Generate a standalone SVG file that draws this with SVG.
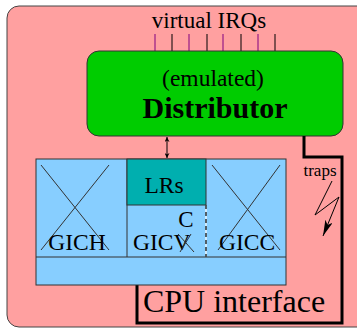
<svg xmlns="http://www.w3.org/2000/svg" width="357" height="329" viewBox="0 0 357 329">
<defs>
<style>
.t{font-family:"Liberation Serif","Times New Roman",serif;fill:#000}
.thin{stroke:#333;stroke-width:1;fill:none}
</style>
<marker id="ah" viewBox="0 0 10 10" refX="10" refY="5" markerWidth="5" markerHeight="5" orient="auto-start-reverse"><path d="M0,0 L10,5 L0,10 L3,5 z" fill="#000"/></marker>
<marker id="ah2" viewBox="0 0 16 8" refX="16" refY="4" markerWidth="16" markerHeight="8" markerUnits="userSpaceOnUse" orient="auto"><path d="M0,0 L16,4 L0,8 L4,4 z" fill="#000"/></marker>
</defs>
<rect width="357" height="329" fill="#fff"/>
<g id="gic">
<rect x="7" y="6" width="370" height="321" rx="12" fill="#ffa0a0" stroke="#444" stroke-width="1"/>
</g>
<g id="irqs">
<text class="t" x="209" y="28" font-size="23" text-anchor="middle">virtual IRQs</text>
<g>
<line x1="155" y1="34" x2="155" y2="51" stroke="#800080"/>
<line x1="172" y1="34" x2="172" y2="51" stroke="#000"/>
<line x1="189" y1="34" x2="189" y2="51" stroke="#800080"/>
<line x1="207" y1="34" x2="207" y2="51" stroke="#000"/>
<line x1="223" y1="34" x2="223" y2="51" stroke="#800080"/>
<line x1="241" y1="34" x2="241" y2="51" stroke="#000"/>
<line x1="258" y1="34" x2="258" y2="51" stroke="#800080"/>
<line x1="275" y1="34" x2="275" y2="51" stroke="#000"/>
</g>
</g>
<g id="distributor">
<rect x="87" y="51" width="256" height="85" rx="12" fill="#00cc00" stroke="#333" stroke-width="1"/>
<text class="t" x="213" y="86" font-size="23.5" text-anchor="middle">(emulated)</text>
<text class="t" x="215" y="118" font-size="30" font-weight="bold" text-anchor="middle">Distributor</text>
</g>
<g id="cpu-interface">
<polyline points="304,136 304,157 342,157 342,323 137,323 137,285" fill="none" stroke="#000" stroke-width="3"/>
<text class="t" x="234" y="312" font-size="32" text-anchor="middle">CPU interface</text>
</g>
<g id="blue">
<rect x="36" y="159" width="250" height="126" fill="#87ceff" stroke="#333" stroke-width="1"/>
<line x1="36" y1="257" x2="286" y2="257" class="thin"/>
<line x1="127" y1="159" x2="127" y2="257" class="thin"/>
</g>
<g id="gich">
<line x1="41" y1="165" x2="109" y2="250" class="thin"/>
<line x1="109" y1="165" x2="41" y2="250" class="thin"/>
<text class="t" x="77" y="250" font-size="23.5" text-anchor="middle">GICH</text>
</g>
<g id="lrs">
<rect x="127" y="159" width="79" height="46" fill="#00afaf" stroke="#333" stroke-width="1"/>
<text class="t" x="164" y="193" font-size="23.5" text-anchor="middle">LRs</text>
</g>
<g id="gicv">
<line x1="206" y1="205" x2="206" y2="257" stroke="#fff" stroke-width="1.2"/>
<line x1="206" y1="205" x2="206" y2="257" stroke="#000" stroke-width="1.2" stroke-dasharray="4,3"/>
<text class="t" x="133" y="250" font-size="23.5">GICV</text>
<text class="t" x="186" y="227" font-size="23" text-anchor="middle">C</text>
<line x1="178" y1="234" x2="194" y2="252" class="thin"/>
<line x1="191" y1="234" x2="180" y2="252" class="thin"/>
</g>
<g id="gicc">
<line x1="212" y1="165" x2="280" y2="250" class="thin"/>
<line x1="280" y1="165" x2="218" y2="250" class="thin"/>
<text class="t" x="247" y="250" font-size="23.5" text-anchor="middle">GICC</text>
</g>
<g id="connectors">
<line x1="167" y1="137" x2="167" y2="158" stroke="#000" stroke-width="1" marker-start="url(#ah)" marker-end="url(#ah)"/>
<polyline points="332,181 315,215 339,197 323,236" fill="none" stroke="#000" stroke-width="1" marker-end="url(#ah2)"/>
<text class="t" x="320" y="176" font-size="17" text-anchor="middle">traps</text>
</g>
</svg>
